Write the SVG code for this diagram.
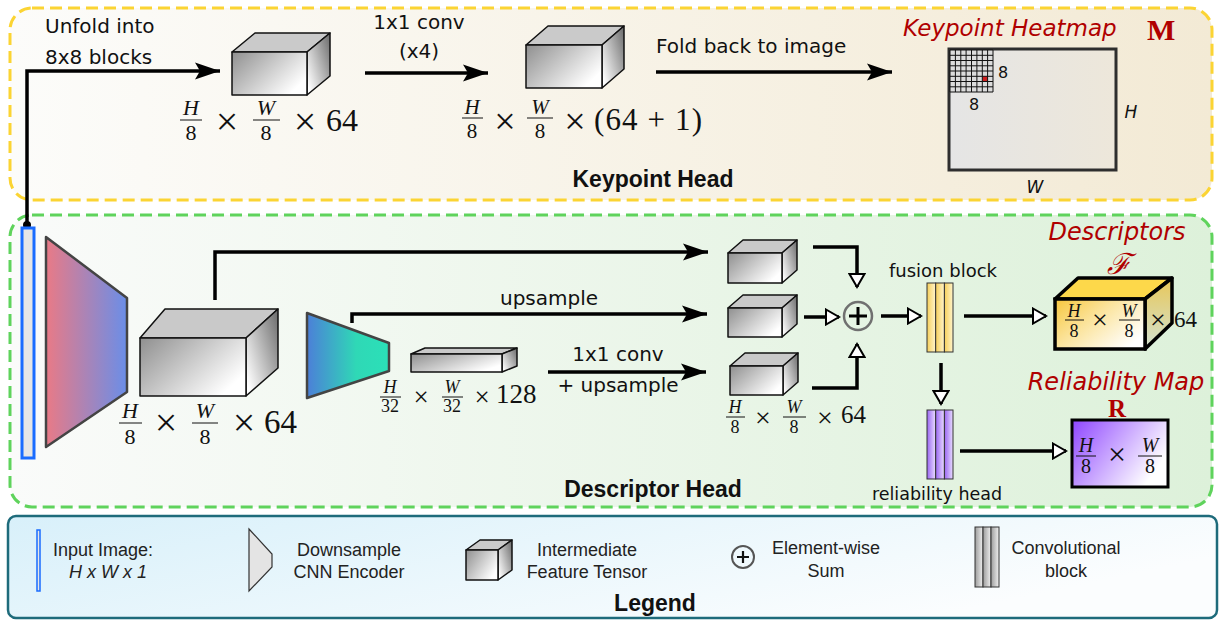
<svg xmlns="http://www.w3.org/2000/svg" width="1227" height="621" viewBox="0 0 1227 621">
  <defs>
    <style>
      .lbl { font-family: "DejaVu Sans", sans-serif; fill: #111; }
      .lg { font-family: "Liberation Sans", Arial, sans-serif; font-size: 18px; fill: #222; }
      .ttl { font-family: "Liberation Sans", Arial, sans-serif; font-weight: bold; fill: #111; }
      .red { font-family: "DejaVu Sans", sans-serif; font-style: italic; fill: #b00000; }
      .m { font-family: "Liberation Serif", "Times New Roman", serif; fill: #111; }
      .mi { font-family: "Liberation Serif", "Times New Roman", serif; font-style: italic; fill: #111; }
      .bar { stroke: #111; stroke-width: 1; }
      .face { stroke: #111; stroke-width: 1.5; stroke-linejoin: round; }
      .wire { fill: none; stroke: #000; stroke-width: 3.5; }
      .strip { stroke: #333; stroke-width: 1; }
    </style>
    <linearGradient id="bgKey" x1="0" y1="0" x2="1" y2="0">
      <stop offset="0" stop-color="#fcfcfa"/>
      <stop offset="1" stop-color="#f3ead5"/>
    </linearGradient>
    <linearGradient id="bgDesc" x1="0" y1="0" x2="1" y2="0">
      <stop offset="0" stop-color="#fafbfa"/>
      <stop offset="1" stop-color="#ddf1da"/>
    </linearGradient>
    <linearGradient id="bgLeg" x1="0" y1="0" x2="1" y2="0.4">
      <stop offset="0" stop-color="#d8f0fa"/>
      <stop offset="1" stop-color="#fbfdfe"/>
    </linearGradient>
    <linearGradient id="tFront" x1="0" y1="0" x2="1" y2="0.6">
      <stop offset="0" stop-color="#8f8f8f"/>
      <stop offset="1" stop-color="#ffffff"/>
    </linearGradient>
    <linearGradient id="tSide" x1="1" y1="0" x2="0" y2="0.8">
      <stop offset="0" stop-color="#6a6a6a"/>
      <stop offset="1" stop-color="#ffffff"/>
    </linearGradient>
    <linearGradient id="enc" x1="0" y1="0" x2="1" y2="0">
      <stop offset="0" stop-color="#e97a86"/>
      <stop offset="1" stop-color="#6a8ee8"/>
    </linearGradient>
    <linearGradient id="dec" x1="0" y1="0" x2="1" y2="0">
      <stop offset="0" stop-color="#4c7fd8"/>
      <stop offset="0.6" stop-color="#2fd8b6"/>
      <stop offset="1" stop-color="#2be0b8"/>
    </linearGradient>
    <linearGradient id="yStrip" x1="0" y1="0" x2="1" y2="0">
      <stop offset="0" stop-color="#f6cf5a"/>
      <stop offset="1" stop-color="#fff4cc"/>
    </linearGradient>
    <linearGradient id="pStrip" x1="0" y1="0" x2="1" y2="0">
      <stop offset="0" stop-color="#9a66f2"/>
      <stop offset="1" stop-color="#e9ddff"/>
    </linearGradient>
    <linearGradient id="gStrip" x1="0" y1="0" x2="1" y2="0">
      <stop offset="0" stop-color="#9c9c9c"/>
      <stop offset="1" stop-color="#f0f0f0"/>
    </linearGradient>
    <linearGradient id="descFront" x1="0" y1="0" x2="1" y2="0.7">
      <stop offset="0" stop-color="#f7c63c"/>
      <stop offset="0.45" stop-color="#fbe39a"/>
      <stop offset="1" stop-color="#ffffff"/>
    </linearGradient>
    <linearGradient id="descSide" x1="0" y1="0" x2="0" y2="1">
      <stop offset="0" stop-color="#e8c758"/>
      <stop offset="1" stop-color="#d3e2d2"/>
    </linearGradient>
    <linearGradient id="relFill" x1="0" y1="0" x2="1" y2="0.5">
      <stop offset="0" stop-color="#8e45ff"/>
      <stop offset="1" stop-color="#ffffff"/>
    </linearGradient>
    <linearGradient id="heat" x1="0" y1="0" x2="1" y2="0">
      <stop offset="0" stop-color="#e5e5e5"/>
      <stop offset="1" stop-color="#ede7da"/>
    </linearGradient>
    <marker id="arr" markerUnits="userSpaceOnUse" markerWidth="26" markerHeight="18" refX="25" refY="9" orient="auto">
      <path d="M0,0.5 L25,9 L0,17.5 L5,9 z" fill="#000"/>
    </marker>
    <marker id="open" markerUnits="userSpaceOnUse" markerWidth="18" markerHeight="18" refX="15" refY="9" orient="auto">
      <path d="M2,1.5 L15,9 L2,16.5 z" fill="#fff" stroke="#000" stroke-width="2" stroke-linejoin="miter"/>
    </marker>
  </defs>

  <rect width="1227" height="621" fill="#ffffff"/>

  <!-- section frames -->
  <g id="keypoint-head-frame">
    <rect x="10" y="8" width="1202" height="192" rx="22" fill="url(#bgKey)" stroke="#fbd433" stroke-width="3" stroke-dasharray="12 6"/>
    <text class="ttl" x="653" y="187" font-size="23" text-anchor="middle">Keypoint Head</text>
  </g>
  <g id="descriptor-head-frame">
    <rect x="10" y="215" width="1202" height="292" rx="22" fill="url(#bgDesc)" stroke="#5fd35c" stroke-width="3" stroke-dasharray="12 6"/>
    <text class="ttl" x="653" y="497" font-size="23" text-anchor="middle">Descriptor Head</text>
  </g>

  <!-- connectors -->
  <g id="connectors">
    <path class="wire" d="M27,226 V71 H220" marker-end="url(#arr)"/>
    <circle cx="27" cy="225" r="4" fill="#000"/>
    <path class="wire" d="M365,73 H488" marker-end="url(#arr)"/>
    <path class="wire" d="M656,72 H892" marker-end="url(#arr)"/>
    <path class="wire" d="M215,300 V252 H708" marker-end="url(#arr)"/>
    <path class="wire" d="M352,323 V314 H707" marker-end="url(#arr)"/>
    <path class="wire" d="M548,372 H706" marker-end="url(#arr)"/>
    <path class="wire" d="M813,247 H857 V287" marker-end="url(#open)"/>
    <path class="wire" d="M804,317 H839" marker-end="url(#open)"/>
    <path class="wire" d="M812,388 H857 V344" marker-end="url(#open)"/>
    <path class="wire" d="M881,316 H921" marker-end="url(#open)"/>
    <path class="wire" d="M964,316 H1046" marker-end="url(#open)"/>
    <path class="wire" d="M941,363 V404" marker-end="url(#open)"/>
    <path class="wire" d="M960,451 H1066" marker-end="url(#open)"/>
  </g>

  <!-- keypoint branch -->
  <g id="unfold-label">
    <text class="lbl" x="45" y="33" font-size="20">Unfold into</text>
    <text class="lbl" x="45" y="64" font-size="20">8x8 blocks</text>
  </g>
  <g id="kp-tensor-1">
    <polygon class="face" points="232,52 255,33 330,33 307,52" fill="#cacaca"/>
    <polygon class="face" points="307,52 330,33 330,76 307,95" fill="url(#tSide)"/>
    <rect class="face" x="232" y="52" width="75" height="43" fill="url(#tFront)"/>
    <text class="mi" x="191" y="115" font-size="22" text-anchor="middle">H</text>
    <line class="bar" x1="180" y1="120" x2="202" y2="120"/>
    <text class="m" x="191" y="140" font-size="22" text-anchor="middle">8</text>
    <text class="m" x="227" y="134.5" font-size="40" text-anchor="middle">×</text>
    <text class="mi" x="266" y="115" font-size="22" text-anchor="middle">W</text>
    <line class="bar" x1="253" y1="120" x2="280" y2="120"/>
    <text class="m" x="266" y="140" font-size="22" text-anchor="middle">8</text>
    <text class="m" x="305" y="134.5" font-size="40" text-anchor="middle">×</text>
    <text class="m" x="326" y="131" font-size="32">64</text>
  </g>
  <g id="conv-label">
    <text class="lbl" x="419" y="29" font-size="20" text-anchor="middle">1x1 conv</text>
    <text class="lbl" x="419" y="58" font-size="20" text-anchor="middle">(x4)</text>
  </g>
  <g id="kp-tensor-2">
    <polygon class="face" points="526,45 548,26 624,26 602,45" fill="#cacaca"/>
    <polygon class="face" points="602,45 624,26 624,69 602,88" fill="url(#tSide)"/>
    <rect class="face" x="526" y="45" width="76" height="43" fill="url(#tFront)"/>
    <text class="mi" x="472" y="114" font-size="21" text-anchor="middle">H</text>
    <line class="bar" x1="462" y1="118" x2="483" y2="118"/>
    <text class="m" x="472" y="138" font-size="21" text-anchor="middle">8</text>
    <text class="m" x="505" y="133.5" font-size="38" text-anchor="middle">×</text>
    <text class="mi" x="540" y="114" font-size="21" text-anchor="middle">W</text>
    <line class="bar" x1="527" y1="118" x2="553" y2="118"/>
    <text class="m" x="540" y="138" font-size="21" text-anchor="middle">8</text>
    <text class="m" x="575" y="133.5" font-size="38" text-anchor="middle">×</text>
    <text class="m" x="594" y="130" font-size="31" textLength="108">(64 + 1)</text>
  </g>
  <g id="fold-label">
    <text class="lbl" x="656" y="53" font-size="20">Fold back to image</text>
  </g>
  <g id="keypoint-heatmap">
    <text class="red" x="903" y="36" font-size="23">Keypoint Heatmap</text>
    <text x="1147" y="40" font-family="Liberation Serif, serif" font-weight="bold" font-size="30" fill="#b00000">M</text>
    <rect x="949" y="49" width="167" height="121" fill="url(#heat)" stroke="#2e2e2e" stroke-width="3"/>
    <rect x="950" y="50" width="43" height="42" fill="#dcdcdc"/>
    <rect x="982.3" y="76.3" width="5.4" height="5.3" fill="#cc1f1f"/>
    <path d="M950,50 V92 M955.4,50 V92 M960.8,50 V92 M966.1,50 V92 M971.5,50 V92 M976.9,50 V92 M982.3,50 V92 M987.6,50 V92 M993,50 V92
             M950,50 H993 M950,55.3 H993 M950,60.5 H993 M950,65.8 H993 M950,71 H993 M950,76.3 H993 M950,81.5 H993 M950,86.8 H993 M950,92 H993"
          stroke="#111" stroke-width="1" fill="none"/>
    <text class="lbl" x="1003" y="78" font-size="16" text-anchor="middle">8</text>
    <text class="lbl" x="974" y="110" font-size="16" text-anchor="middle">8</text>
    <text class="lbl" x="1131" y="118" font-size="17" font-style="italic" text-anchor="middle">H</text>
    <text class="lbl" x="1035" y="193" font-size="17" font-style="italic" text-anchor="middle">W</text>
  </g>

  <!-- descriptor branch -->
  <g id="input-image">
    <rect x="22" y="228" width="12" height="230" fill="#e6e6e6" stroke="#1a6cff" stroke-width="3"/>
  </g>
  <g id="encoder">
    <polygon points="46,237 127,298 127,392 46,447" fill="url(#enc)" stroke="#444" stroke-width="2.5" stroke-linejoin="round"/>
  </g>
  <g id="feature-tensor">
    <polygon class="face" points="140,338 165,309 278,309 246,338" fill="#c9c9c9"/>
    <polygon class="face" points="246,338 278,309 278,368 246,396" fill="url(#tSide)"/>
    <rect class="face" x="140" y="338" width="106" height="58" fill="url(#tFront)"/>
    <text class="mi" x="130" y="418" font-size="22" text-anchor="middle">H</text>
    <line class="bar" x1="119" y1="423" x2="142" y2="423"/>
    <text class="m" x="130" y="444" font-size="22" text-anchor="middle">8</text>
    <text class="m" x="166" y="435.5" font-size="40" text-anchor="middle">×</text>
    <text class="mi" x="205" y="418" font-size="22" text-anchor="middle">W</text>
    <line class="bar" x1="192" y1="423" x2="218" y2="423"/>
    <text class="m" x="205" y="444" font-size="22" text-anchor="middle">8</text>
    <text class="m" x="244" y="435.5" font-size="40" text-anchor="middle">×</text>
    <text class="m" x="264" y="433" font-size="33">64</text>
  </g>
  <g id="bottleneck">
    <polygon points="307,313 389,343 389,371 307,398" fill="url(#dec)" stroke="#444" stroke-width="2.5" stroke-linejoin="round"/>
  </g>
  <g id="bottleneck-tensor">
    <polygon class="face" points="411,354 425,348 517,348 502,354" fill="#c9c9c9"/>
    <polygon class="face" points="502,354 517,348 517,366 502,372" fill="url(#tSide)"/>
    <rect class="face" x="411" y="354" width="91" height="18" fill="url(#tFront)"/>
    <text class="mi" x="390" y="393" font-size="18" text-anchor="middle">H</text>
    <line class="bar" x1="380" y1="397" x2="401" y2="397"/>
    <text class="m" x="390" y="412" font-size="18" text-anchor="middle">32</text>
    <text class="m" x="421" y="405.5" font-size="27" text-anchor="middle">×</text>
    <text class="mi" x="452" y="393" font-size="18" text-anchor="middle">W</text>
    <line class="bar" x1="442" y1="397" x2="463" y2="397"/>
    <text class="m" x="452" y="412" font-size="18" text-anchor="middle">32</text>
    <text class="m" x="482" y="405.5" font-size="27" text-anchor="middle">×</text>
    <text class="m" x="496" y="403" font-size="27">128</text>
  </g>
  <g id="path-labels">
    <text class="lbl" x="549" y="305" font-size="20" text-anchor="middle">upsample</text>
    <text class="lbl" x="618" y="361" font-size="20" text-anchor="middle">1x1 conv</text>
    <text class="lbl" x="618" y="392" font-size="20" text-anchor="middle">+ upsample</text>
  </g>
  <g id="aligned-tensor-1">
    <polygon class="face" points="728,253 743,240 797,240 782,253" fill="#c9c9c9"/>
    <polygon class="face" points="782,253 797,240 797,270 782,283" fill="url(#tSide)"/>
    <rect class="face" x="728" y="253" width="54" height="30" fill="url(#tFront)"/>
  </g>
  <g id="aligned-tensor-2">
    <polygon class="face" points="728,308 743,295 797,295 782,308" fill="#c9c9c9"/>
    <polygon class="face" points="782,308 797,295 797,324 782,337" fill="url(#tSide)"/>
    <rect class="face" x="728" y="308" width="54" height="29" fill="url(#tFront)"/>
  </g>
  <g id="aligned-tensor-3">
    <polygon class="face" points="730,366 745,353 798,353 783,366" fill="#c9c9c9"/>
    <polygon class="face" points="783,366 798,353 798,382 783,395" fill="url(#tSide)"/>
    <rect class="face" x="730" y="366" width="53" height="29" fill="url(#tFront)"/>
    <text class="mi" x="735" y="413" font-size="18" text-anchor="middle">H</text>
    <line class="bar" x1="726" y1="417" x2="745" y2="417"/>
    <text class="m" x="735" y="433" font-size="18" text-anchor="middle">8</text>
    <text class="m" x="763" y="426.5" font-size="28" text-anchor="middle">×</text>
    <text class="mi" x="794" y="413" font-size="18" text-anchor="middle">W</text>
    <line class="bar" x1="783" y1="417" x2="806" y2="417"/>
    <text class="m" x="794" y="433" font-size="18" text-anchor="middle">8</text>
    <text class="m" x="825" y="426.5" font-size="28" text-anchor="middle">×</text>
    <text class="m" x="841" y="423" font-size="25">64</text>
  </g>
  <g id="element-sum">
    <circle cx="858" cy="316" r="14" fill="none" stroke="#707070" stroke-width="2.5"/>
    <path d="M849,316 H867 M858,307 V325" stroke="#000" stroke-width="3"/>
  </g>
  <g id="fusion-block">
    <text class="lbl" x="943" y="277" font-size="18" text-anchor="middle">fusion block</text>
    <rect class="strip" x="927" y="283" width="8.7" height="69" fill="url(#yStrip)"/>
    <rect class="strip" x="935.7" y="283" width="8.7" height="69" fill="url(#yStrip)"/>
    <rect class="strip" x="944.4" y="283" width="8.6" height="69" fill="url(#yStrip)"/>
  </g>
  <g id="reliability-head">
    <rect class="strip" x="927" y="410" width="8.7" height="69" fill="url(#pStrip)"/>
    <rect class="strip" x="935.7" y="410" width="8.7" height="69" fill="url(#pStrip)"/>
    <rect class="strip" x="944.4" y="410" width="8.6" height="69" fill="url(#pStrip)"/>
    <text class="lbl" x="937" y="500" font-size="17.5" text-anchor="middle">reliability head</text>
  </g>
  <g id="descriptors">
    <text class="red" x="1117" y="240" font-size="24" text-anchor="middle">Descriptors</text>
    <text x="1119" y="274" font-family="DejaVu Serif, serif" font-style="italic" font-size="29" fill="#b00000" text-anchor="middle">ℱ</text>
    <polygon points="1055,299 1078,278 1172,278 1145,299" fill="#fdd84a" stroke="#000" stroke-width="3.5" stroke-linejoin="round"/>
    <polygon points="1145,299 1172,278 1172,323 1145,349" fill="url(#descSide)" stroke="#000" stroke-width="3.5" stroke-linejoin="round"/>
    <rect x="1055" y="299" width="90" height="50" fill="url(#descFront)" stroke="#000" stroke-width="3.5"/>
    <text class="mi" x="1074" y="317" font-size="18" text-anchor="middle">H</text>
    <line class="bar" x1="1065" y1="320" x2="1084" y2="320"/>
    <text class="m" x="1074" y="337" font-size="18" text-anchor="middle">8</text>
    <text class="m" x="1100" y="329" font-size="28" text-anchor="middle">×</text>
    <text class="mi" x="1129" y="317" font-size="18" text-anchor="middle">W</text>
    <line class="bar" x1="1119" y1="320" x2="1140" y2="320"/>
    <text class="m" x="1129" y="337" font-size="18" text-anchor="middle">8</text>
    <text class="m" x="1158" y="329" font-size="28" text-anchor="middle">×</text>
    <text class="m" x="1174" y="327" font-size="23">64</text>
  </g>
  <g id="reliability-map">
    <text class="red" x="1116" y="390" font-size="24" text-anchor="middle">Reliability Map</text>
    <text x="1117" y="417" font-family="Liberation Serif, serif" font-weight="bold" font-size="25" fill="#b00000" text-anchor="middle">R</text>
    <rect x="1072" y="420" width="96" height="67" fill="url(#relFill)" stroke="#000" stroke-width="3"/>
    <text class="mi" x="1086" y="452" font-size="20" text-anchor="middle">H</text>
    <line class="bar" x1="1076" y1="456" x2="1096" y2="456"/>
    <text class="m" x="1086" y="473" font-size="20" text-anchor="middle">8</text>
    <text class="m" x="1117" y="465" font-size="32" text-anchor="middle">×</text>
    <text class="mi" x="1150" y="452" font-size="20" text-anchor="middle">W</text>
    <line class="bar" x1="1138" y1="456" x2="1162" y2="456"/>
    <text class="m" x="1150" y="473" font-size="20" text-anchor="middle">8</text>
  </g>

  <!-- legend -->
  <g id="legend">
    <rect x="8" y="516" width="1209" height="102" rx="8" fill="url(#bgLeg)" stroke="#1e6b7b" stroke-width="2.5"/>
    <rect x="37" y="530" width="3" height="61" fill="#e6e6e6" stroke="#1a6cff" stroke-width="1.5"/>
    <text class="lg" x="53" y="556">Input Image:</text>
    <text class="lg" x="108" y="578" font-style="italic" text-anchor="middle">H x W x 1</text>
    <polygon points="249,529 272,554 272,567 249,591" fill="#e4e4e4" stroke="#333" stroke-width="1.2"/>
    <text class="lg" x="349" y="556" text-anchor="middle">Downsample</text>
    <text class="lg" x="349" y="578" text-anchor="middle">CNN Encoder</text>
    <polygon class="face" points="466,550 480,540 512,540 498,550" fill="#cacaca" stroke-width="1"/>
    <polygon class="face" points="498,550 512,540 512,570 498,580" fill="url(#tSide)" stroke-width="1"/>
    <rect class="face" x="466" y="550" width="32" height="30" fill="url(#tFront)" stroke-width="1"/>
    <text class="lg" x="587" y="556" text-anchor="middle">Intermediate</text>
    <text class="lg" x="587" y="578" text-anchor="middle">Feature Tensor</text>
    <circle cx="743" cy="557" r="11" fill="none" stroke="#555" stroke-width="2"/>
    <path d="M737,557 H749 M743,551 V563" stroke="#111" stroke-width="2.2"/>
    <text class="lg" x="826" y="554" text-anchor="middle">Element-wise</text>
    <text class="lg" x="826" y="577" text-anchor="middle">Sum</text>
    <rect class="strip" x="975" y="527" width="8" height="60" fill="url(#gStrip)"/>
    <rect class="strip" x="983" y="527" width="8" height="60" fill="url(#gStrip)"/>
    <rect class="strip" x="991" y="527" width="8" height="60" fill="url(#gStrip)"/>
    <text class="lg" x="1066" y="554" text-anchor="middle">Convolutional</text>
    <text class="lg" x="1066" y="577" text-anchor="middle">block</text>
    <text class="ttl" x="655" y="611" font-size="23" text-anchor="middle">Legend</text>
  </g>
</svg>
